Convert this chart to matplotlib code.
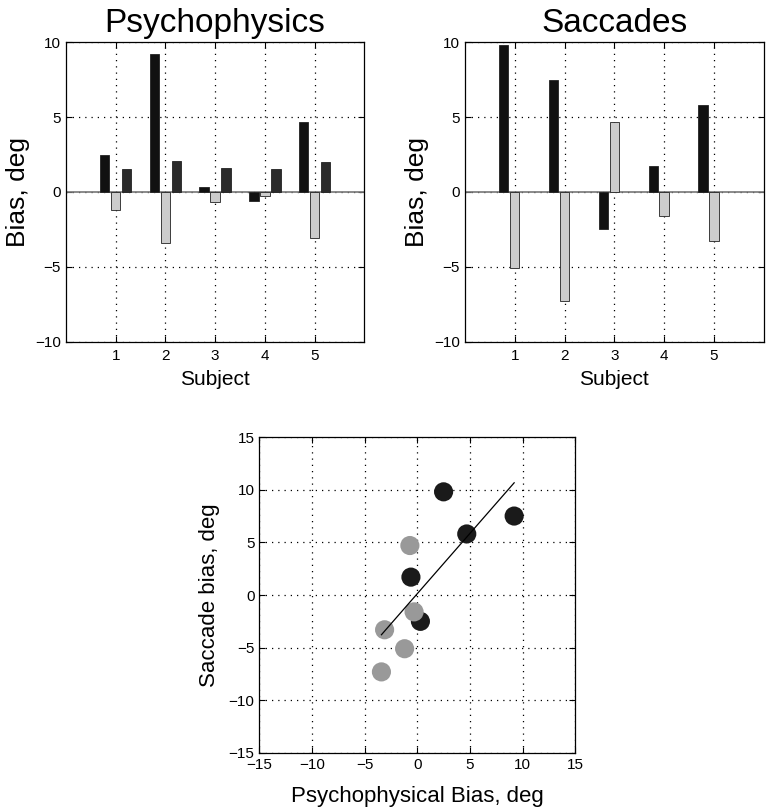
import numpy as np
import matplotlib.pyplot as plt

plt.rcParams['font.family'] = ['Liberation Sans', 'DejaVu Sans']

subjects = [1, 2, 3, 4, 5]

# psychophysics bias, three conditions per subject
psy_black = [2.5, 9.2, 0.3, -0.6, 4.7]
psy_light = [-1.2, -3.4, -0.7, -0.3, -3.1]
psy_dark = [1.5, 2.1, 1.6, 1.5, 2.0]

# saccade bias, two conditions per subject
sac_black = [9.8, 7.5, -2.5, 1.7, 5.8]
sac_light = [-5.1, -7.3, 4.7, -1.6, -3.3]

BLACK = "#111111"
LIGHT = "#cccccc"
DARK = "#2b2b2b"


def style_axes(ax):
    ax.grid(True, linestyle=(0, (1, 4)), color="black", linewidth=0.9)
    ax.set_axisbelow(True)
    ax.tick_params(direction="in", length=4, labelsize=11, top=True, right=True)
    for s in ax.spines.values():
        s.set_linewidth(0.9)


def bar_panel(ax, series, title):
    x = np.array(subjects, dtype=float)
    offsets = [-0.22, 0.0, 0.22]
    for (vals, color), off in zip(series, offsets):
        ax.bar(x + off, vals, width=0.19, color=color, edgecolor="#222222",
               linewidth=0.6, zorder=3)
    ax.axhline(0, color="#777777", linewidth=1.2, zorder=2)
    ax.set_xlim(0, 6)
    ax.set_ylim(-10, 10)
    ax.set_xticks(subjects)
    ax.set_yticks([-10, -5, 0, 5, 10])
    style_axes(ax)
    ax.tick_params(axis="x", pad=5)
    ax.set_xlabel("Subject", fontsize=15, labelpad=5)
    ax.set_ylabel("Bias, deg", fontsize=19, labelpad=4)
    ax.set_title(title, fontsize=24, pad=7)


fig = plt.figure(figsize=(7.67, 8.10), dpi=100)

ax1 = fig.add_axes([0.086, 0.578, 0.389, 0.370])
bar_panel(ax1, [(psy_black, BLACK), (psy_light, LIGHT), (psy_dark, DARK)],
          "Psychophysics")

ax2 = fig.add_axes([0.606, 0.578, 0.390, 0.370])
bar_panel(ax2, [(sac_black, BLACK), (sac_light, LIGHT)], "Saccades")

ax3 = fig.add_axes([0.338, 0.0704, 0.412, 0.390])
ax3.scatter(psy_black, sac_black, s=190, color="#1a1a1a", zorder=3,
            edgecolors="none")
ax3.scatter(psy_light, sac_light, s=190, color="#999999", zorder=3,
            edgecolors="none")

all_x = np.array(psy_black + psy_light)
all_y = np.array(sac_black + sac_light)
slope, icpt = np.polyfit(all_x, all_y, 1)
xs = np.array([all_x.min(), all_x.max()])
ax3.plot(xs, slope * xs + icpt, color="black", linewidth=0.9, zorder=4)

ax3.set_xlim(-15, 15)
ax3.set_ylim(-15, 15)
ax3.set_xticks(range(-15, 16, 5))
ax3.set_yticks(range(-15, 16, 5))
style_axes(ax3)
ax3.set_xlabel("Psychophysical Bias, deg", fontsize=16, labelpad=10)
ax3.set_ylabel("Saccade bias, deg", fontsize=16, labelpad=6)

fig.savefig("out.png", dpi=100)
